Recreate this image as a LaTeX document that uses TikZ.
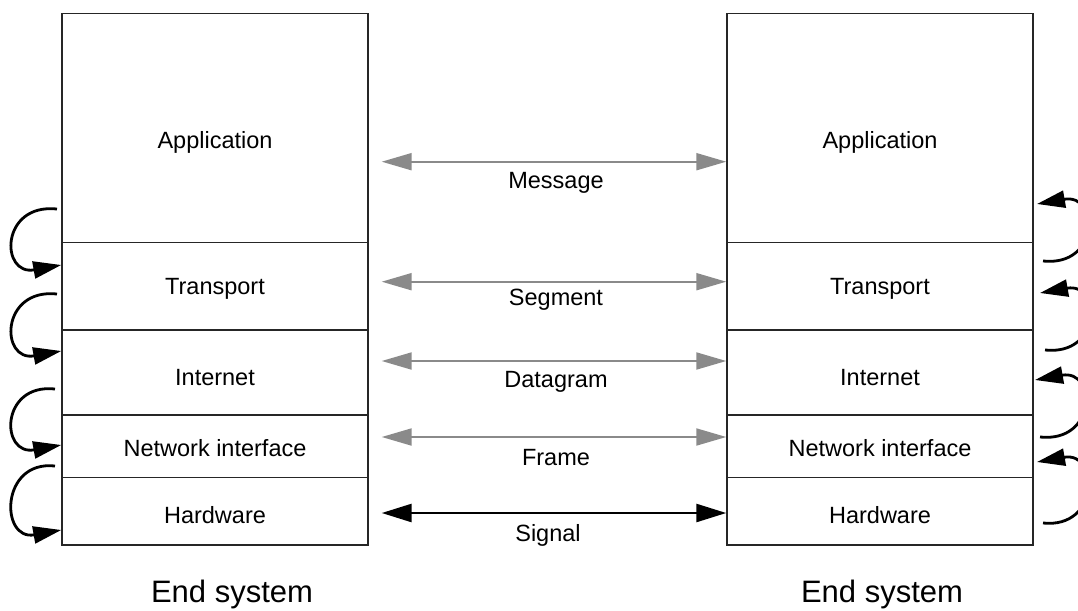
\documentclass[tikz,border=0pt]{standalone}
\usepackage{fontspec}
\setmainfont{Liberation Sans}
\usetikzlibrary{arrows.meta}
\definecolor{arrgray}{HTML}{8A8A8A}
\begin{document}
\begin{tikzpicture}[x=1pt,y=-1pt,
  layer/.style={draw=black!85, line width=1.5pt, minimum width=306pt, inner sep=0pt, anchor=north},
  lbl/.style={font=\fontsize{23.5}{26}\selectfont, inner sep=0pt},
  msg/.style={font=\fontsize{23.5}{26}\selectfont, inner sep=0pt},
  big/.style={font=\fontsize{31}{34}\selectfont, inner sep=0pt},
  garrow/.style={arrgray, line width=2pt, {Triangle[length=30pt,width=17pt]}-{Triangle[length=30pt,width=17pt]}},
  barrow/.style={black, line width=2.6pt, {Triangle[length=30pt,width=18pt]}-{Triangle[length=30pt,width=18pt]}},
  loopar/.style={black, line width=2.8pt, -{Triangle[length=28pt,width=17pt]}}
]
\path[use as bounding box, clip] (0,0) rectangle (1078,610);
% left stack
\node[layer, minimum height=229pt] (LApp) at (215,12.7) {};
\node[layer, minimum height=87.6pt] (LTr) at (215,241.7) {};
\node[layer, minimum height=84.7pt] (LIn) at (215,329.3) {};
\node[layer, minimum height=62.7pt] (LNi) at (215,414) {};
\node[layer, minimum height=67.3pt] (LHw) at (215,476.7) {};
% right stack
\node[layer, minimum height=229pt] (RApp) at (880,12.7) {};
\node[layer, minimum height=87.6pt] (RTr) at (880,241.7) {};
\node[layer, minimum height=84.7pt] (RIn) at (880,329.3) {};
\node[layer, minimum height=62.7pt] (RNi) at (880,414) {};
\node[layer, minimum height=67.3pt] (RHw) at (880,476.7) {};
% layer labels
\node[lbl] (tLApp) at (215,142) {Application};
\node[lbl] (tLTr) at (215,289) {Transport};
\node[lbl] (tLIn) at (215,378) {Internet};
\node[lbl] (tLNi) at (215,448) {Network interface};
\node[lbl] (tLHw) at (215,515) {Hardware};
\node[lbl] (tRApp) at (880,142) {Application};
\node[lbl] (tRTr) at (880,289) {Transport};
\node[lbl] (tRIn) at (880,378) {Internet};
\node[lbl] (tRNi) at (880,448) {Network interface};
\node[lbl] (tRHw) at (880,515) {Hardware};
% end system
\node[big] (esL) at (232,594) {End system};
\node[big] (esR) at (882,594) {End system};
% middle arrows
\coordinate (m1) at (381.7,161.7);
\coordinate (m2) at (381.7,281.7);
\coordinate (m3) at (381.7,361);
\coordinate (m4) at (381.7,437);
\coordinate (m5) at (381.7,513);
\draw[garrow] (m1) -- (RApp.west |- m1);
\draw[garrow] (m2) -- (RTr.west |- m2);
\draw[garrow] (m3) -- (RIn.west |- m3);
\draw[garrow] (m4) -- (RNi.west |- m4);
\draw[barrow] (m5) -- (RHw.west |- m5);
\node[msg] (lm1) at (556,183) {Message};
\node[msg] (lm2) at (556,300) {Segment};
\node[msg] (lm3) at (556,381.7) {Datagram};
\node[msg] (lm4) at (556,458) {Frame};
\node[msg] (lm5) at (548,535) {Signal};
% left loops
\coordinate (ls1) at (57,209);  \coordinate (lt1) at (LTr.west |- 0,265);
\coordinate (ls2) at (57,294);  \coordinate (lt2) at (LIn.west |- 0,351);
\coordinate (ls3) at (55,389);  \coordinate (lt3) at (LNi.west |- 0,445);
\coordinate (ls4) at (55,466);  \coordinate (lt4) at (LHw.west |- 0,530);
\draw[loopar] (ls1) .. controls (0,203) and (0,276) .. (lt1);
\draw[loopar] (ls2) .. controls (0,288) and (0,362) .. (lt2);
\draw[loopar] (ls3) .. controls (0,383) and (0,456) .. (lt3);
\draw[loopar] (ls4) .. controls (0,460) and (0,541) .. (lt4);
% right loops (partly outside the picture)
\coordinate (rs1) at (1043,261); \coordinate (rt1) at (1037,204);
\coordinate (rs2) at (1045,350); \coordinate (rt2) at (1040,293);
\coordinate (rs3) at (1040,437); \coordinate (rt3) at (1035,380);
\coordinate (rs4) at (1043,523); \coordinate (rt4) at (1037,462);
\draw[loopar] (rs1) .. controls (1100,267) and (1100,193) .. (rt1);
\draw[loopar] (rs2) .. controls (1102,356) and (1102,282) .. (rt2);
\draw[loopar] (rs3) .. controls (1097,443) and (1097,369) .. (rt3);
\draw[loopar] (rs4) .. controls (1100,529) and (1100,451) .. (rt4);
\end{tikzpicture}
\end{document}
